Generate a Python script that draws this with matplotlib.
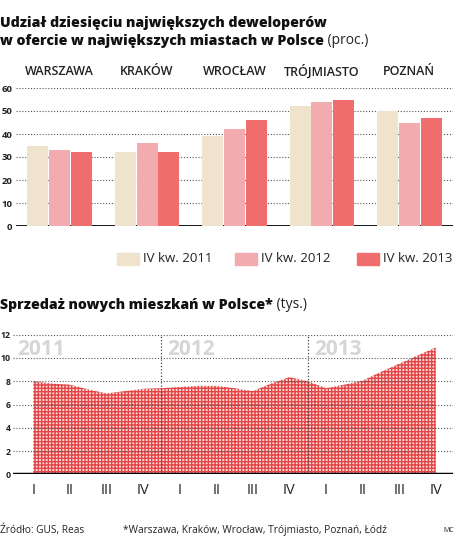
import matplotlib
matplotlib.use("Agg")
import matplotlib.pyplot as plt
from matplotlib.patches import Rectangle
import numpy as np

plt.rcParams['font.family'] = ['Open Sans', 'DejaVu Sans']
plt.rcParams['hatch.linewidth'] = 1.0

# ---------- data ----------
cities = ["WARSZAWA", "KRAKÓW", "WROCŁAW", "TRÓJMIASTO", "POZNAŃ"]
share_2011 = [35, 32, 39, 52, 50]
share_2012 = [33, 36, 42, 54, 45]
share_2013 = [32, 32, 46, 55, 47]
series_labels = ["IV kw. 2011", "IV kw. 2012", "IV kw. 2013"]
share_yticks = [0, 10, 20, 30, 40, 50, 60]

years = ["2011", "2012", "2013"]
quarter_names = ["I", "II", "III", "IV"]
# sales (thousands), read at every half quarter from I 2011 to IV 2013
sales_pos = [0, 0.5, 1, 1.5, 2, 2.5, 3, 3.5, 4, 4.5, 5, 5.5, 6, 6.5, 7, 7.5,
             8, 8.5, 9, 9.5, 10, 10.5, 11]
sales = [8.0, 7.8, 7.7, 7.3, 6.95, 7.15, 7.35, 7.4, 7.5, 7.6, 7.6, 7.4,
         7.15, 7.8, 8.35, 8.0, 7.4, 7.7, 8.05, 8.8, 9.5, 10.2, 10.9]
sales_yticks = [0, 2, 4, 6, 8, 10, 12]

colors = ["#f0e3cd", "#f2abae", "#ef6d6d"]
W, H = 477, 555
TITLE_FONT = dict(family=["Open Sans", "DejaVu Sans"], fontweight="extra bold",
                  fontsize=10.2, color="#111")

fig = plt.figure(figsize=(W / 100, H / 100), dpi=100)

def fx(px):
    return px / W

def fy(py):
    return 1 - py / H

def title_with_suffix(px, py, bold, suffix):
    t = fig.text(fx(px), fy(py), bold, va="bottom", ha="left", **TITLE_FONT)
    fig.canvas.draw()
    bb = t.get_window_extent()
    fig.text(bb.x1 / fig.bbox.width, bb.y0 / fig.bbox.height, suffix, fontsize=10,
             family=["Open Sans", "DejaVu Sans"], color="#222", va="bottom", ha="left")

# ---------- titles ----------
fig.text(fx(0), fy(30), "Udział dziesięciu największych deweloperów", va="bottom",
         ha="left", **TITLE_FONT)
title_with_suffix(0, 48, "w ofercie w największych miastach w Polsce", " (proc.)")

# ---------- top bar chart ----------
ax1 = fig.add_axes([fx(16), fy(226), fx(437), (226 - 88) / H])
x = np.arange(len(cities))
ax1.set_xlim(-0.5, 4.5)
ax1.set_ylim(0, 60)
for i, (vals, c) in enumerate(zip([share_2011, share_2012, share_2013], colors)):
    ax1.bar(x + (i - 1) * 0.25, vals, width=0.24, color=c, zorder=2, linewidth=0)
ax1.set_yticks(share_yticks)
ax1.set_yticklabels([str(v) for v in share_yticks], fontsize=6.8, fontweight="bold",
                    color="#222")
ax1.tick_params(axis="y", length=0, pad=2.5)
ax1.set_xticks([])
ax1.grid(axis="y", linestyle=(0, (1, 1.6)), color="#555", linewidth=0.8)
ax1.set_axisbelow(True)
for s in ax1.spines.values():
    s.set_visible(False)
ax1.axhline(0, color="black", linewidth=2, zorder=1.5)
for xi, name in zip(x, cities):
    ax1.text(xi, 67, name, ha="center", va="center", fontsize=9, color="#222",
             fontweight="semibold", clip_on=False)

# legend
leg_x = [117, 235, 357]
for lx, c, lab in zip(leg_x, colors, series_labels):
    fig.patches.append(Rectangle((fx(lx), fy(265)), fx(22), 12 / H, color=c,
                                 transform=fig.transFigure, figure=fig))
    fig.text(fx(lx + 26), fy(259), lab, fontsize=9.5, color="#222", va="center",
             ha="left")

# ---------- second title ----------
title_with_suffix(0, 312, "Sprzedaż nowych mieszkań w Polsce*", " (tys.)")

# ---------- bottom area chart ----------
ax2 = fig.add_axes([fx(13), fy(474.3), fx(440), (474.3 - 334.7) / H])
ax2.set_xlim(-0.555, 11.47)
ax2.set_ylim(0, 12)
ax2.fill_between(sales_pos, sales, 0, facecolor="#fcdede", edgecolor="#e44444",
                 hatch="+" * 5, linewidth=0, zorder=1)
ax2.set_yticks(sales_yticks)
ax2.set_yticklabels([str(v) for v in sales_yticks], fontsize=6.3, fontweight="bold",
                    color="#222")
ax2.tick_params(axis="y", length=0, pad=1.5)
nq = len(years) * len(quarter_names)
ax2.set_xticks(np.arange(nq))
ax2.set_xticklabels(quarter_names * len(years), fontsize=10.5, color="#222")
ax2.tick_params(axis="x", length=0, pad=6)
ax2.grid(axis="y", linestyle=(0, (1, 1.6)), color="#555", linewidth=0.8, zorder=2.5)
ax2.set_axisbelow(False)
for s in ax2.spines.values():
    s.set_visible(False)
ax2.axhline(0, color="black", linewidth=2.5, zorder=3)
for k in range(1, len(years)):
    ax2.axvline(k * 4 - 0.5, linestyle=(0, (1, 1.6)), color="#444", linewidth=0.9,
                zorder=2.6)
for k, yr in enumerate(years):
    ax2.text(k * 4 - 0.45 + (0.12 if k else 0), 11.6, yr, fontsize=15, fontweight="bold",
             color="#d6d6d6", ha="left", va="top", zorder=0.5)

# ---------- footer ----------
fig.text(fx(0), fy(530), "Źródło: GUS, Reas", fontsize=7.3, color="#222", va="center")
fig.text(fx(123), fy(530), "*Warszawa, Kraków, Wrocław, Trójmiasto, Poznań, Łódź",
         fontsize=7.3, color="#222", va="center")
fig.text(fx(443), fy(530), "MC", fontsize=5, color="#222", va="center")

fig.savefig("out.png", dpi=100)
